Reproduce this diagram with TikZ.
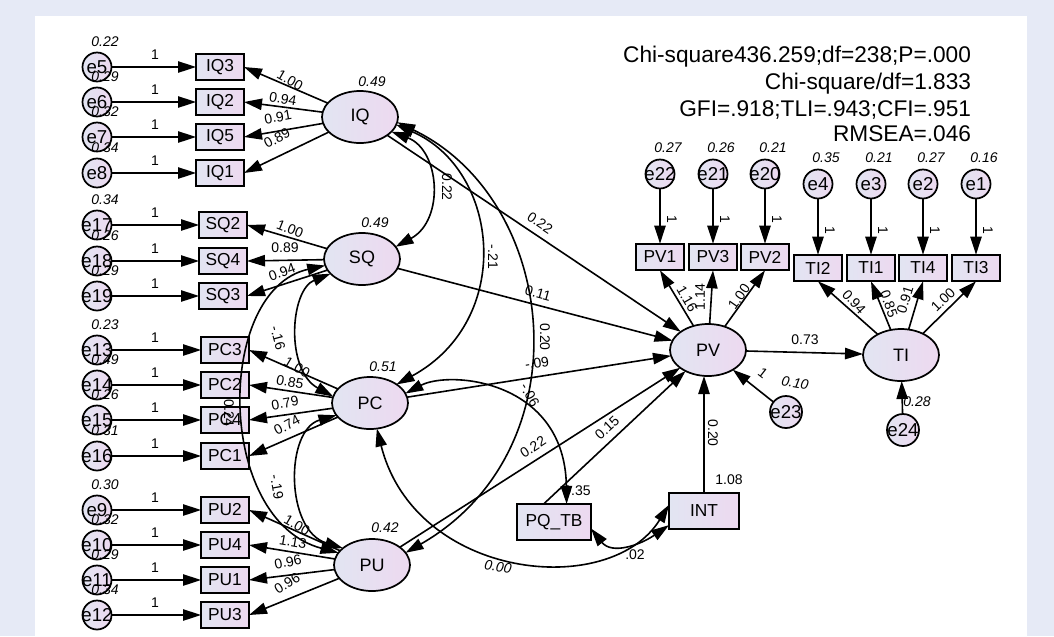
\documentclass[tikz,border=0pt]{standalone}
\usepackage{fontspec}
\setmainfont{Liberation Sans}
\usetikzlibrary{arrows.meta,shapes.geometric}
\definecolor{bgc}{RGB}{230,234,246}
\definecolor{nL}{RGB}{226,229,242}
\definecolor{nR}{RGB}{237,217,240}
\begin{document}
\begin{tikzpicture}[x=0.75pt,y=-0.75pt,
  every node/.style={inner sep=0pt, outer sep=0pt},
  obs/.style={draw, line width=1.3pt, rectangle, left color=nL, right color=nR, minimum width=36pt, minimum height=20pt, font=\fontsize{13}{15}\selectfont},
  lat/.style={draw, line width=1.3pt, ellipse, left color=nL, right color=nR, minimum width=57pt, minimum height=39pt, font=\fontsize{13.5}{15}\selectfont},
  err/.style={draw, line width=1.3pt, circle, left color=nL, right color=nR, minimum size=21.75pt, font=\fontsize{14}{15}\selectfont},
  arr/.style={line width=1.2pt, -{Triangle[length=13.5pt,width=8.5pt]}},
  cov/.style={line width=1.2pt, {Triangle[length=13.5pt,width=8.5pt]}-{Triangle[length=13.5pt,width=8.5pt]}},
  estl/.style={font=\fontsize{10.5}{12}\selectfont},
  varl/.style={font=\fontsize{10.5}{12}\selectfont\itshape},
  fitt/.style={font=\fontsize{17}{20}\selectfont, anchor=base east}
]
\fill[bgc] (0,0) rectangle (1054,636);
\fill[white] (35,16) rectangle (1027,636);
\useasboundingbox (0,0) rectangle (1054,636);

% fit indices
\node[fitt] (f1) at (971,62) {Chi-square436.259;df=238;P=.000};
\node[fitt] (f2) at (971,89.5) {Chi-square/df=1.833};
\node[fitt] (f3) at (971,116) {GFI=.918;TLI=.943;CFI=.951};
\node[fitt] (f4) at (971,141.5) {RMSEA=.046};

% latent and other main nodes
\node[lat] (IQ) at (360,117) {IQ};
\node[lat] (SQ) at (362,259) {SQ};
\node[lat] (PC) at (370,403) {PC};
\node[lat] (PU) at (372,565) {PU};
\node[lat] (PV) at (708,350) {PV};
\node[lat] (TI) at (901,355) {TI};
\node[obs, minimum width=55.5pt, minimum height=27pt] (PQTB) at (554,522) {PQ\_TB};
\node[obs, minimum width=52.5pt, minimum height=27pt] (INT) at (704,511) {INT};
\node[err, minimum size=24pt] (e23) at (786,412) {\makebox[0pt]{e23}};
\node[err, minimum size=24pt] (e24) at (903,430) {\makebox[0pt]{e24}};

% left indicators
\foreach \e/\b/\y/\v/\bx in {5/IQ3/67/0.22/220, 6/IQ2/102/0.29/220, 7/IQ5/137/0.32/220, 8/IQ1/173/0.34/220,
  17/SQ2/225/0.34/223, 18/SQ4/261/0.26/223, 19/SQ3/296/0.29/223,
  13/PC3/350/0.23/225, 14/PC2/385/0.49/225, 15/PC4/420/0.26/225, 16/PC1/456/0.31/225,
  9/PU2/510/0.30/225, 10/PU4/545/0.32/225, 11/PU1/580/0.29/225, 12/PU3/615/0.34/225}{
  \node[obs] (\b) at (\bx,\y) {\b};
  \node[err] (e\e) at (97,\y) {\makebox[0pt]{e\e}};
  \node[varl] (v\e) at (105,\y-25) {\v};
  \node[estl] (o\e) at (155,\y-12) {1};
  \draw[arr] (e\e) -- (\b);
}

% top indicators
\foreach \e/\b/\x/\y/\by/\v in {22/PV1/660/174/257/0.27, 21/PV3/713/174/257/0.26, 20/PV2/765/174/257/0.21,
  4/TI2/818/184/268/0.35, 3/TI1/871/184/268/0.21, 2/TI4/923/184/268/0.27, 1/TI3/976/184/268/0.16}{
  \node[obs] (\b) at (\x,\by) {\b};
  \node[err] (e\e) at (\x,\y) {\makebox[0pt]{e\e}};
  \node[varl] (v\e) at (\x+8,\y-26) {\v};
  \node[estl, rotate=-90] (o\e) at (\x+12,\by-38) {1};
  \draw[arr] (e\e) -- (\b);
}

% loadings
\draw[arr] (IQ) -- (IQ3.east);
\draw[arr] (IQ) -- (IQ2.east);
\draw[arr] (IQ) -- (IQ5.east);
\draw[arr] (IQ) -- (IQ1.east);
\draw[arr] (SQ) -- (SQ2.east);
\draw[arr] (SQ) -- (SQ4.east);
\draw[arr] (SQ) -- (SQ3.east);
\draw[arr] (PC) -- (PC3.east);
\draw[arr] (PC) -- (PC2.east);
\draw[arr] (PC) -- (PC4.east);
\draw[arr] (PC) -- (PC1.east);
\draw[arr] (PU) -- (PU2.east);
\draw[arr] (PU) -- (PU4.east);
\draw[arr] (PU) -- (PU1.east);
\draw[arr] (PU) -- (PU3.east);
\draw[arr] (PV) -- (PV1.south);
\draw[arr] (PV) -- (PV3.south);
\draw[arr] (PV) -- (PV2.south);
\draw[arr] (TI) -- (TI2.south);
\draw[arr] (TI) -- (TI1.south);
\draw[arr] (TI) -- (TI4.south);
\draw[arr] (TI) -- (TI3.south);

% structural paths
\draw[arr] (IQ) -- (PV);
\draw[arr] (SQ) -- (PV);
\draw[arr] (PC) -- (PV);
\draw[arr] (PU) -- (PV);
\draw[arr] (PQTB.120) -- (PV);
\draw[arr] (INT.north) -- (INT.north |- PV.south);
\draw[arr] (e23) -- (PV);
\draw[arr] (PV) -- (TI);
\draw[arr] (e24) -- (TI);

% covariances
\draw[cov] (IQ.-25) .. controls (440,150) and (445,220) .. (SQ.20);
\draw[cov] (IQ.-12) .. controls (500,170) and (515,320) .. (PC.35);
\draw[cov] (IQ.-8) .. controls (560,200) and (585,450) .. (PU.20);
\draw[cov] (SQ.-155) .. controls (290,290) and (285,370) .. (PC.170);
\draw[cov] (SQ.-170) .. controls (215,290) and (215,520) .. (PU.160);
\draw[cov] (PC.-160) .. controls (285,430) and (285,530) .. (PU.150);
\draw[cov] (PC.15) .. controls (450,370) and (565,380) .. (PQTB.55);
\draw[cov] (PC.-75) .. controls (415,580) and (610,600) .. (INT.170);
\draw[cov] (PQTB.-10) .. controls (612,555) and (640,545) .. (INT.-158);

% loading labels
\node[estl, rotate=-30] (a1) at (290,80) {1.00};
\node[estl, rotate=-10] (a2) at (283,99) {0.94};
\node[estl, rotate=10] (a3) at (278,117) {0.91};
\node[estl, rotate=28] (a4) at (277,138) {0.89};
\node[estl, rotate=-22] (a5) at (290,229) {1.00};
\node[estl] (a6) at (285,248) {0.89};
\node[estl, rotate=20] (a7) at (282,272) {0.94};
\node[estl, rotate=-31] (a8) at (297,367) {1.00};
\node[estl, rotate=-11] (a9) at (290,382) {0.85};
\node[estl, rotate=10] (a10) at (285,403) {0.79};
\node[estl, rotate=28] (a11) at (287,425) {0.74};
\node[estl, rotate=-30] (a12) at (297,525) {1.00};
\node[estl, rotate=-10] (a13) at (293,542) {1.13};
\node[estl, rotate=12] (a14) at (288,562) {0.96};
\node[estl, rotate=32] (a15) at (287,583) {0.96};
\node[estl, rotate=-60] (a16) at (687,299) {1.16};
\node[estl, rotate=90] (a17) at (700,297) {1.14};
\node[estl, rotate=55] (a18) at (739,297) {1.00};
\node[estl, rotate=-48] (a19) at (854,302) {0.94};
\node[estl, rotate=-70] (a20) at (889,304) {0.85};
\node[estl, rotate=73] (a21) at (905,300) {0.91};
\node[estl, rotate=44] (a22) at (943,300) {1.00};

% latent variances
\node[varl] (w1) at (372,82) {0.49};
\node[varl] (w2) at (375,223) {0.49};
\node[varl] (w3) at (383,367) {0.51};
\node[varl] (w4) at (385,528) {0.42};
\node[varl, rotate=-10] (w5) at (795,383) {0.10};
\node[varl] (w6) at (917,402) {0.28};
\node[estl] (w7) at (577,491) {0.35};
\node[estl] (w8) at (729,480) {1.08};

% covariance labels
\node[estl, rotate=-90] (c1) at (447,187) {0.22};
\node[estl, rotate=-90] (c2) at (493,257) {-.21};
\node[estl, rotate=-90] (c3) at (545,337) {0.20};
\node[estl, rotate=-75] (c4) at (278,338) {-.16};
\node[estl, rotate=-80] (c5) at (277,487) {-.19};
\node[estl, rotate=-90] (c6) at (229,413) {0.24};
\node[estl, rotate=-60] (c7) at (530,395) {-.06};
\node[varl, rotate=-8] (c8) at (498,567) {0.00};
\node[estl] (c9) at (635,555) {.02};

% path labels
\node[estl, rotate=-34] (p1) at (540,223) {0.22};
\node[estl, rotate=-15] (p2) at (538,293) {0.11};
\node[estl, rotate=9] (p3) at (537,363) {-.09};
\node[estl, rotate=33] (p4) at (533,447) {0.22};
\node[estl, rotate=43] (p5) at (607,428) {0.15};
\node[estl, rotate=-90] (p6) at (713,433) {0.20};
\node[estl, rotate=-38] (p7) at (763,373) {1};
\node[estl] (p8) at (805,340) {0.73};
\end{tikzpicture}
\end{document}
